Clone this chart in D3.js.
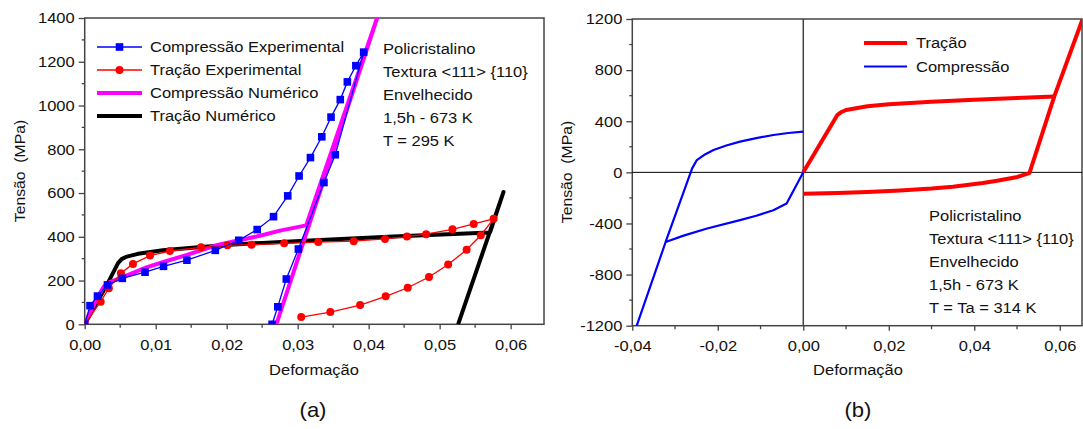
<!DOCTYPE html>
<html>
<head>
<meta charset="utf-8">
<script src="https://cdn.jsdelivr.net/npm/d3@7"></script>
<style>
  body { margin: 0; background: white; }
  text { font-family: "Liberation Sans", Arial, sans-serif; fill: #111; }
</style>
</head>
<body>
<div id="canvas"></div>
<script>
"use strict"

/* ---- data, panel (a): [strain, stress MPa] ---- */
let compExp = [
    [0, 0], [0.00075, 85], [0.0018, 129], [0.0032, 180], [0.0053, 210], [0.0085, 238],
    [0.0111, 265], [0.0144, 293], [0.0184, 338], [0.0217, 384], [0.0243, 433], [0.0266, 492],
    [0.0286, 587], [0.0302, 678], [0.0318, 762], [0.0334, 857], [0.0347, 947], [0.0360, 1027],
    [0.0370, 1108], [0.0382, 1182], [0.0393, 1244],
    [0.0353, 775], [0.0337, 648], [0.0301, 344], [0.0284, 207], [0.0272, 80], [0.0264, 0]
];
let tracExp = [
    [0, 0], [0.00225, 103], [0.0034, 165], [0.0051, 233], [0.0068, 276], [0.0092, 314],
    [0.0120, 335], [0.0164, 352], [0.0201, 361], [0.0235, 364], [0.0281, 370], [0.0329, 376],
    [0.0379, 380], [0.0423, 390], [0.0454, 401], [0.0481, 412], [0.0518, 434], [0.0548, 459],
    [0.0576, 482],
    [0.0558, 407], [0.0538, 341], [0.0512, 273], [0.0485, 216], [0.0455, 167], [0.0424, 128],
    [0.0388, 88], [0.0346, 56], [0.0305, 33]
];
let compNum = [
    [0, 0], [0.0010, 70], [0.0020, 135], [0.0027, 172], [0.0035, 193], [0.0051, 212],
    [0.0087, 260], [0.0112, 286], [0.0144, 317], [0.0184, 360], [0.0219, 385], [0.0247, 405],
    [0.0275, 428], [0.0312, 452], [0.0415, 1430], [0.0270, 0]
];
let tracNum = [
    [0, 0], [0.0032, 185], [0.0047, 280], [0.0052, 298], [0.0058, 308], [0.0075, 322],
    [0.0110, 338], [0.0160, 352], [0.0210, 365], [0.0250, 372], [0.0310, 382], [0.0435, 401],
    [0.0571, 420], [0.0590, 605], [0.0526, 0]
];

/* ---- data, panel (b) ---- */
let tracLoad = [
    [0, 0], [0.0080, 450], [0.0088, 470], [0.0100, 488], [0.0150, 517], [0.0200, 532],
    [0.0300, 552], [0.0400, 569], [0.0500, 582], [0.0587, 593]
];
let tracUnload = [
    [0.0660, 1260], [0.0587, 593], [0.0529, -6], [0.0521, -14], [0.0498, -39], [0.0450, -68],
    [0.0420, -84], [0.0350, -113], [0.0300, -127], [0.0226, -142], [0.0150, -154],
    [0.0080, -162], [0, -168]
];
let compLoad = [
    [0, 0], [-0.0039, -243], [-0.0070, -296], [-0.0110, -340], [-0.0148, -374], [-0.0225, -439],
    [-0.0280, -495], [-0.0322, -545], [-0.0400, -1300]
];
let compUnload = [
    [-0.0322, -545], [-0.0260, 31], [-0.0249, 96], [-0.0230, 140], [-0.0210, 175],
    [-0.0180, 210], [-0.0148, 240], [-0.0110, 268], [-0.0070, 292], [-0.0035, 308], [0, 318]
];

/* tick values */
let xTicksA = [0, 0.01, 0.02, 0.03, 0.04, 0.05, 0.06];
let yTicksA = [0, 200, 400, 600, 800, 1000, 1200, 1400];
let xTicksB = [-0.04, -0.02, 0, 0.02, 0.04, 0.06];
let yTicksB = [-1200, -800, -400, 0, 400, 800, 1200];

let legendA = ["Compressão Experimental", "Tração Experimental", "Compressão Numérico", "Tração Numérico"];
let legendB = ["Tração", "Compressão"];
let noteA = ["Policristalino", "Textura <111> {110}", "Envelhecido", "1,5h - 673 K", "T = 295 K"];
let noteB = ["Policristalino", "Textura <111> {110}", "Envelhecido", "1,5h - 673 K", "T = Ta = 314 K"];

/* canvas */
let svgWidth = 1083;
let svgHeight = 429;
let fontSize = 15;
let stretch = 1.1; // reference text is a bit wider than plain Arial

let svg = d3.select("#canvas")
    .append("svg")
    .attr("width", svgWidth)
    .attr("height", svgHeight);

let fmtX = function(v) { return d3.format(".2f")(v).replace("−", "-").replace(".", ","); };
let fmtY = function(v) { return String(v); };

/* scales */
let xA = d3.scaleLinear().domain([0, 0.0647]).range([84.7, 544]);
let yA = d3.scaleLinear().domain([0, 1400]).range([324.3, 18]);
let xB = d3.scaleLinear().domain([-0.04, 0.0652]).range([632.3, 1082]);
let yB = d3.scaleLinear().domain([-1200, 1200]).range([325.7, 19]);

/* clip regions */
let defs = svg.append("defs");
defs.append("clipPath").attr("id", "clipA").append("rect")
    .attr("x", xA.range()[0]).attr("y", yA.range()[1])
    .attr("width", xA.range()[1] - xA.range()[0]).attr("height", yA.range()[0] - yA.range()[1]);
defs.append("clipPath").attr("id", "clipB").append("rect")
    .attr("x", xB.range()[0]).attr("y", yB.range()[1])
    .attr("width", xB.range()[1] - xB.range()[0]).attr("height", yB.range()[0] - yB.range()[1]);

function drawAxes(x, y, xTicks, yTicks, xMinor, yMinor) {
    let x0 = x.range()[0], x1 = x.range()[1];
    let y0 = y.range()[0], y1 = y.range()[1];
    let xAxis = d3.axisBottom(x).tickValues(xTicks).tickFormat(fmtX).tickSize(5).tickPadding(6);
    let yAxis = d3.axisLeft(y).tickValues(yTicks).tickFormat(fmtY).tickSize(6).tickPadding(4);

    let gx = svg.append("g").attr("transform", "translate(0," + y0 + ")").call(xAxis);
    let gy = svg.append("g").attr("transform", "translate(" + x0 + ",0)").call(yAxis);
    [gx, gy].forEach(function(g) {
        g.select(".domain").remove();
        g.selectAll("line").attr("stroke", "#444").attr("stroke-width", 1.3);
        g.selectAll("text").style("font-size", fontSize + "px")
            .style("font-family", "'Liberation Sans', Arial, sans-serif").attr("fill", "#111");
    });
    gx.selectAll("text").attr("dy", "0.95em");

    /* minor ticks */
    svg.append("g").selectAll("line").data(xMinor).join("line")
        .attr("x1", function(d) { return x(d); }).attr("x2", function(d) { return x(d); })
        .attr("y1", y0).attr("y2", y0 + 3.5)
        .attr("stroke", "#444").attr("stroke-width", 1.3);
    svg.append("g").selectAll("line").data(yMinor).join("line")
        .attr("x1", x0 - 3).attr("x2", x0)
        .attr("y1", function(d) { return y(d); }).attr("y2", function(d) { return y(d); })
        .attr("stroke", "#444").attr("stroke-width", 1.3);

    /* frame */
    svg.append("rect")
        .attr("x", x0).attr("y", y1)
        .attr("width", x1 - x0).attr("height", y0 - y1)
        .attr("fill", "none").attr("stroke", "#444").attr("stroke-width", 1.5);
}

drawAxes(xA, yA, xTicksA, yTicksA,
    [0.005, 0.015, 0.025, 0.035, 0.045, 0.055],
    [100, 300, 500, 700, 900, 1100, 1300]);
drawAxes(xB, yB, xTicksB, yTicksB,
    [-0.03, -0.01, 0.01, 0.03, 0.05],
    [-1000, -600, -200, 200, 600, 1000]);

/* zero lines on panel (b) */
svg.append("line")
    .attr("x1", xB(0)).attr("x2", xB(0)).attr("y1", yB(1200)).attr("y2", yB(-1200))
    .attr("stroke", "#444").attr("stroke-width", 1.5);
svg.append("line")
    .attr("x1", xB.range()[0]).attr("x2", xB.range()[1]).attr("y1", yB(0)).attr("y2", yB(0))
    .attr("stroke", "black").attr("stroke-width", 1);

/* ---- panel (a) curves ---- */
let lineA = d3.line().x(function(d) { return xA(d[0]); }).y(function(d) { return yA(d[1]); });
let plotA = svg.append("g").attr("clip-path", "url(#clipA)");

plotA.append("path").datum(tracNum)
    .attr("d", lineA).attr("fill", "none").attr("stroke", "black")
    .attr("stroke-width", 4).attr("stroke-linejoin", "round");
plotA.append("path").datum(compNum)
    .attr("d", lineA).attr("fill", "none").attr("stroke", "#ff00ff")
    .attr("stroke-width", 4).attr("stroke-linejoin", "round");
plotA.append("path").datum(tracExp)
    .attr("d", lineA).attr("fill", "none").attr("stroke", "red").attr("stroke-width", 1.3);
plotA.selectAll(".dotR").data(tracExp).join("circle")
    .attr("cx", function(d) { return xA(d[0]); })
    .attr("cy", function(d) { return yA(d[1]); })
    .attr("r", 4).attr("fill", "red");
plotA.append("path").datum(compExp)
    .attr("d", lineA).attr("fill", "none").attr("stroke", "blue").attr("stroke-width", 1.3);
plotA.selectAll(".sqB").data(compExp).join("rect")
    .attr("x", function(d) { return xA(d[0]) - 3.8; })
    .attr("y", function(d) { return yA(d[1]) - 3.8; })
    .attr("width", 7.6).attr("height", 7.6).attr("fill", "blue");

/* legend (a) */
let legX = 97, legY = 47, legStep = 23;
legendA.forEach(function(name, i) {
    let cy = legY + i * legStep;
    let col = ["blue", "red", "#ff00ff", "black"][i];
    svg.append("line")
        .attr("x1", legX).attr("x2", legX + 45).attr("y1", cy).attr("y2", cy)
        .attr("stroke", col).attr("stroke-width", i < 2 ? 1.3 : 4);
    if (i === 0) {
        svg.append("rect").attr("x", legX + 22.5 - 3.8).attr("y", cy - 3.8)
            .attr("width", 7.6).attr("height", 7.6).attr("fill", "blue");
    }
    if (i === 1) {
        svg.append("circle").attr("cx", legX + 22.5).attr("cy", cy).attr("r", 4).attr("fill", "red");
    }
    svg.append("text").attr("x", 150).attr("y", cy)
        .attr("dy", "0.36em").style("font-size", fontSize + "px").text(name);
});

/* note (a) */
noteA.forEach(function(t, i) {
    svg.append("text").attr("x", 383).attr("y", 49 + i * 23)
        .attr("dy", "0.36em").style("font-size", fontSize + "px").text(t);
});

/* ---- panel (b) curves ---- */
let lineB = d3.line().x(function(d) { return xB(d[0]); }).y(function(d) { return yB(d[1]); });
let plotB = svg.append("g").attr("clip-path", "url(#clipB)");

[compLoad, compUnload].forEach(function(s) {
    plotB.append("path").datum(s).attr("d", lineB).attr("fill", "none")
        .attr("stroke", "blue").attr("stroke-width", 2.2).attr("stroke-linejoin", "round");
});
[tracLoad, tracUnload].forEach(function(s) {
    plotB.append("path").datum(s).attr("d", lineB).attr("fill", "none")
        .attr("stroke", "red").attr("stroke-width", 4).attr("stroke-linejoin", "round");
});

/* legend (b) */
legendB.forEach(function(name, i) {
    let cy = 43 + i * 23.5;
    svg.append("line")
        .attr("x1", 864).attr("x2", 907).attr("y1", cy).attr("y2", cy)
        .attr("stroke", i === 0 ? "red" : "blue").attr("stroke-width", i === 0 ? 4 : 2.2);
    svg.append("text").attr("x", 916).attr("y", cy)
        .attr("dy", "0.36em").style("font-size", fontSize + "px").text(name);
});

/* note (b) */
noteB.forEach(function(t, i) {
    svg.append("text").attr("x", 929).attr("y", 216 + i * 23)
        .attr("dy", "0.36em").style("font-size", fontSize + "px").text(t);
});

/* ---- axis titles and captions ---- */
svg.append("text").attr("x", 313).attr("y", 410).attr("text-anchor", "middle")
    .attr("dy", "0.36em").style("font-size", "20px").text("(a)");
svg.append("text").attr("x", 858).attr("y", 410).attr("text-anchor", "middle")
    .attr("dy", "0.36em").style("font-size", "20px").text("(b)");
[314, 858].forEach(function(cx) {
    svg.append("text").attr("x", cx).attr("y", 370)
        .attr("text-anchor", "middle").attr("dy", "0.36em")
        .style("font-size", fontSize + "px").text("Deformação");
});

/* stretch flat text horizontally around its anchor */
svg.selectAll("text").each(function() {
    let t = d3.select(this);
    let x = +t.attr("x") || 0;
    t.attr("transform", "translate(" + x + ",0) scale(" + stretch + ",1) translate(" + (-x) + ",0)");
});

/* rotated y titles (added after the stretch) */
[[20, 171], [567, 172]].forEach(function(p) {
    svg.append("text")
        .attr("transform", "translate(" + p[0] + "," + p[1] + ") rotate(-90) scale(1.05,1)")
        .attr("text-anchor", "middle").attr("dy", "0.36em")
        .style("font-size", fontSize + "px").style("white-space", "pre")
        .text("Tensão  (MPa)");
});
</script>
</body>
</html>
